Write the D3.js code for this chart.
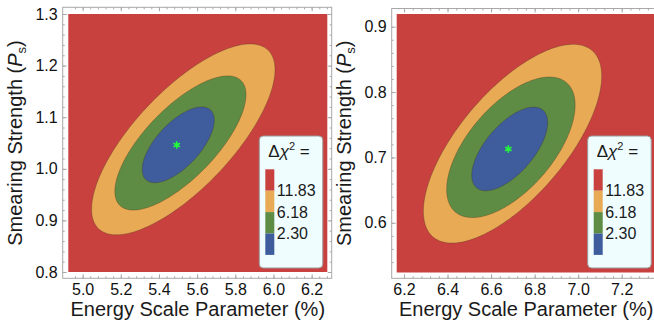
<!DOCTYPE html>
<html>
<head>
<meta charset="utf-8">
<script src="https://cdn.jsdelivr.net/npm/d3@7"></script>
<style>
  body { margin: 0; background: #fff; }
  svg { display: block; font-family: "Liberation Sans", Arial, sans-serif; }
</style>
</head>
<body>
<div id="chart"></div>
<script>
// contour levels (delta chi^2), inner to outer
var levels = [2.30, 6.18, 11.83];
var legendLabels = ["11.83", "6.18", "2.30"];

// left panel
var xDomainA = [4.925, 6.282];
var yDomainA = [0.8, 1.3];
var xTicksA = [5.0, 5.2, 5.4, 5.6, 5.8, 6.0, 6.2];
var yTicksA = [0.8, 0.9, 1.0, 1.1, 1.2, 1.3];
var bestA = [5.493, 1.046];
// [xMin, xMax, yMin, yMax] of each contour, inner to outer
var boundsA = [[5.312, 5.690, 0.973, 1.120], [5.169, 5.856, 0.920, 1.180], [5.047, 6.008, 0.872, 1.242]];
var tiltA = [0.65, 0.72, 0.73];

// right panel
var xDomainB = [6.1665, 7.356];
var yDomainB = [0.524, 0.9194];
var xTicksB = [6.2, 6.4, 6.6, 6.8, 7.0, 7.2];
var yTicksB = [0.6, 0.7, 0.8, 0.9];
var bestB = [6.679, 0.713];
var boundsB = [[6.511, 6.860, 0.649, 0.777], [6.396, 6.986, 0.608, 0.823], [6.289, 7.108, 0.569, 0.873]];
var tiltB = [0.63, 0.6, 0.68];

var fillOut = "#c8413f";
var fills = ["#3f5c9c", "#5f8c44", "#e8aa55"]; // inner to outer
var legendFills = [fillOut, fills[2], fills[1], fills[0]];

var width = 654, height = 335;
var svg = d3.select("#chart").append("svg")
  .attr("width", width)
  .attr("height", height);

function minorTicks(domain, step) {
  var out = [];
  var start = Math.ceil(domain[0] / step - 1e-9);
  for (var k = start; k * step <= domain[1] + 1e-9; k++) out.push(+(k * step).toFixed(4));
  return out;
}

function ellipse(b, rho) {
  var cx = (b[0] + b[1]) / 2, a = (b[1] - b[0]) / 2;
  var cy = (b[2] + b[3]) / 2, h = (b[3] - b[2]) / 2;
  var s = Math.sqrt(1 - rho * rho);
  return d3.range(0, 180).map(function(i) {
    var t = i / 180 * 2 * Math.PI;
    return [cx + a * Math.cos(t), cy + h * (rho * Math.cos(t) + s * Math.sin(t))];
  });
}

function drawPanel(opt) {
  var g = svg.append("g");
  var xscale = d3.scaleLinear().domain(opt.xDomain).range([opt.left, opt.right]);
  var yscale = d3.scaleLinear().domain(opt.yDomain).range([opt.bottom, opt.top]);
  var fr = opt.frame;

  // background (outside largest contour)
  g.append("rect")
    .attr("x", xscale(opt.xDomain[0]))
    .attr("y", yscale(opt.yDomain[1]))
    .attr("width", xscale(opt.xDomain[1]) - xscale(opt.xDomain[0]))
    .attr("height", yscale(opt.yDomain[0]) - yscale(opt.yDomain[1]))
    .style("fill", fillOut);

  var line = d3.line()
    .x(function(d) { return xscale(d[0]); })
    .y(function(d) { return yscale(d[1]); })
    .curve(d3.curveLinearClosed);

  // outer first
  for (var i = opt.bounds.length - 1; i >= 0; i--) {
    g.append("path")
      .attr("d", line(ellipse(opt.bounds[i], opt.tilt[i])))
      .style("fill", fills[i])
      .style("stroke", "rgba(70,50,30,0.55)")
      .style("stroke-width", 0.6);
  }

  g.append("path")
    .attr("transform", "translate(" + xscale(opt.best[0]) + "," + yscale(opt.best[1]) + ")")
    .attr("d", d3.symbol().type(d3.symbolAsterisk).size(38)())
    .style("fill", "none")
    .style("stroke", "#22ff3a")
    .style("stroke-width", 1.6);

  // frame
  g.append("rect")
    .attr("x", fr[0]).attr("y", fr[1])
    .attr("width", fr[2] - fr[0]).attr("height", fr[3] - fr[1])
    .style("fill", "none")
    .style("stroke", "#a8a8a8")
    .style("stroke-width", 1);

  var xMinor = minorTicks(opt.xDomain, 0.04);
  var yMinor = minorTicks(opt.yDomain, 0.02);

  function styleAxis(sel, labels) {
    sel.select(".domain").remove();
    sel.selectAll("line").style("stroke", "#a8a8a8");
    sel.attr("font-family", null).attr("font-size", null);
    if (labels) sel.selectAll("text").style("font-size", "16px").style("fill", "#111");
  }

  var axes = [
    [d3.axisBottom(xscale).tickValues(opt.xTicks).tickFormat(d3.format(".1f")), "translate(0," + fr[3] + ")", true],
    [d3.axisLeft(yscale).tickValues(opt.yTicks).tickFormat(d3.format(".1f")), "translate(" + fr[0] + ",0)", true],
    [d3.axisTop(xscale).tickValues(opt.xTicks).tickFormat(""), "translate(0," + fr[1] + ")", false],
    [d3.axisRight(yscale).tickValues(opt.yTicks).tickFormat(""), "translate(" + fr[2] + ",0)", false]
  ];
  axes.forEach(function(a) {
    var ax = g.append("g").attr("transform", a[1])
      .call(a[0].tickSizeInner(-4).tickSizeOuter(0).tickPadding(a[2] ? 5 : 0));
    styleAxis(ax, a[2]);
  });
  var minors = [
    [d3.axisBottom(xscale).tickValues(xMinor), "translate(0," + fr[3] + ")"],
    [d3.axisLeft(yscale).tickValues(yMinor), "translate(" + fr[0] + ",0)"],
    [d3.axisTop(xscale).tickValues(xMinor), "translate(0," + fr[1] + ")"],
    [d3.axisRight(yscale).tickValues(yMinor), "translate(" + fr[2] + ",0)"]
  ];
  minors.forEach(function(a) {
    var ax = g.append("g").attr("transform", a[1])
      .call(a[0].tickFormat("").tickSizeInner(-2).tickSizeOuter(0));
    styleAxis(ax, false);
  });

  // axis titles
  g.append("text")
    .attr("x", (opt.left + opt.right) / 2)
    .attr("y", 316)
    .attr("text-anchor", "middle")
    .style("font-size", "20px")
    .style("fill", "#1a1a1a")
    .text("Energy Scale Parameter (%)");

  var yt = g.append("text")
    .attr("transform", "translate(" + (fr[0] - 41) + "," + ((opt.top + opt.bottom) / 2) + ") rotate(-90)")
    .attr("text-anchor", "middle")
    .style("font-size", "20px")
    .style("fill", "#1a1a1a");
  yt.append("tspan").text("Smearing Strength (");
  yt.append("tspan").style("font-style", "italic").text("P");
  yt.append("tspan").attr("dy", 4).style("font-size", "13px").text("s");
  yt.append("tspan").attr("dy", -4).text(")");

  // legend
  var lx = opt.right - 68, ly = 136;
  var lg = g.append("g").attr("transform", "translate(" + lx + "," + ly + ")");
  lg.append("rect")
    .attr("width", 63.5).attr("height", 132).attr("rx", 4)
    .style("fill", "#effdff")
    .style("stroke", "#9a9a9a")
    .style("stroke-width", 1);
  var lt = lg.append("text").attr("x", 9).attr("y", 21)
    .style("font-size", "17px").style("fill", "#1a1a1a");
  lt.append("tspan").text("\u0394");
  lt.append("tspan").style("font-style", "italic").text("\u03c7");
  lt.append("tspan").attr("dy", -7).style("font-size", "11px").text("2");
  lt.append("tspan").attr("dy", 7).text(" =");

  var sw = 21.4;
  lg.selectAll(".sw").data(legendFills).enter().append("rect")
    .attr("x", 6).attr("y", function(d, i) { return 33.3 + i * sw; })
    .attr("width", 9).attr("height", sw)
    .style("fill", function(d) { return d; });
  lg.selectAll(".lab").data(legendLabels).enter().append("text")
    .attr("x", 17.5)
    .attr("y", function(d, i) { return 33.3 + (i + 1) * sw; })
    .attr("dy", "0.36em")
    .style("font-size", "16px")
    .style("fill", "#1a1a1a")
    .text(function(d) { return d; });
}

drawPanel({
  xDomain: xDomainA, yDomain: yDomainA, xTicks: xTicksA, yTicks: yTicksA,
  best: bestA, bounds: boundsA, tilt: tiltA,
  left: 68.3, right: 327.3, top: 14, bottom: 272,
  frame: [62.7, 7.3, 331.7, 278.3]
});
drawPanel({
  xDomain: xDomainB, yDomain: yDomainB, xTicks: xTicksB, yTicks: yTicksB,
  best: bestB, bounds: boundsB, tilt: tiltB,
  left: 396.7, right: 655.7, top: 14, bottom: 272.5,
  frame: [391.7, 8.5, 661, 278.3]
});
</script>
</body>
</html>
